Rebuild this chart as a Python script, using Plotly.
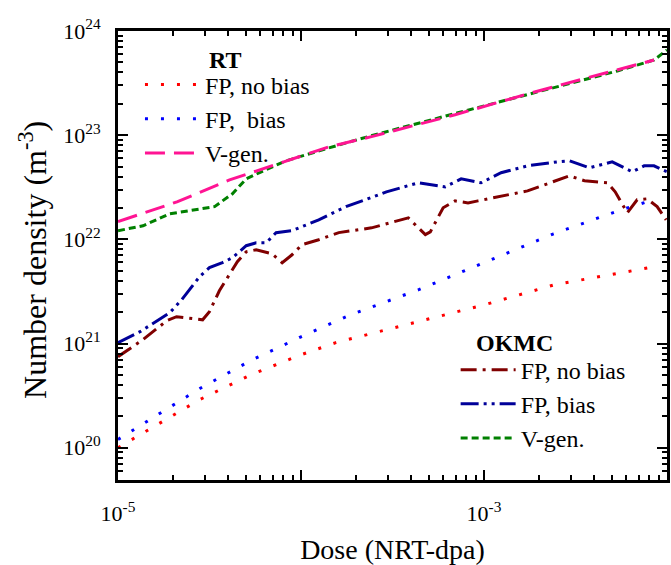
import plotly.graph_objects as go

# ---------------- data ----------------
rt_nobias_dose = [1e-5, 1.5e-5, 2.8e-5, 5.3e-5, 1e-4, 1.55e-4, 4.4e-4, 1.01e-3, 2.43e-3, 6.9e-3, 8.5e-3]
rt_nobias_dens = [1.0e20, 1.53e20, 2.9e20, 5.0e20, 7.8e20, 1.02e21, 1.62e21, 2.36e21, 3.67e21, 5.1e21, 5.45e21]

rt_bias_dose = [1e-5, 1.5e-5, 2.8e-5, 5.3e-5, 1e-4, 1.87e-4, 4.4e-4, 1.03e-3, 2.4e-3, 5.6e-3, 8.5e-3]
rt_bias_dens = [1.2e20, 1.86e20, 3.7e20, 6.85e20, 1.16e21, 1.89e21, 3.29e21, 6.1e21, 1.13e22, 1.92e22, 2.4e22]

rt_vgen_dose = [1e-5, 2.1e-5, 4.07e-5, 8.3e-5, 1.42e-4, 2.4e-4, 6.95e-4, 1.89e-3, 5.35e-3, 8.5e-3]
rt_vgen_dens = [1.48e22, 2.29e22, 3.72e22, 5.68e22, 7.73e22, 9.64e22, 1.57e23, 2.6e23, 4.23e23, 5.27e23]

okmc_nobias_dose = [1e-5, 1.37e-5, 1.85e-5, 2.09e-5, 2.90e-5, 3.16e-5, 3.58e-5, 4.07e-5, 4.49e-5,
                    5.02e-5, 5.69e-5, 6.95e-5, 7.89e-5, 8.93e-5, 1.01e-4, 1.25e-4, 1.61e-4, 2.43e-4,
                    3.86e-4, 4.11e-4, 4.78e-4, 5.09e-4, 5.98e-4, 6.95e-4, 8.18e-4, 9.27e-4, 1.73e-3,
                    2.93e-3, 3.54e-3, 4.72e-3, 5.21e-3, 6.07e-3, 6.87e-3, 7.78e-3, 8.83e-3, 9.89e-3]
okmc_nobias_dens = [7.48e20, 1.09e21, 1.66e21, 1.81e21, 1.69e21, 2.02e21, 3.21e21, 4.58e21, 6.10e21,
                    7.60e21, 7.94e21, 7.28e21, 5.97e21, 7.11e21, 8.87e21, 9.91e21, 1.16e22, 1.29e22,
                    1.61e22, 1.44e22, 1.11e22, 1.18e22, 2.01e22, 2.34e22, 2.24e22, 2.34e22, 2.92e22,
                    4.07e22, 3.65e22, 3.49e22, 2.86e22, 1.80e22, 2.40e22, 2.45e22, 2.06e22, 1.54e22]

okmc_bias_dose = [1e-5, 1.32e-5, 1.92e-5, 2.23e-5, 2.46e-5, 2.79e-5, 3.16e-5, 3.72e-5, 4.22e-5,
                  5.02e-5, 5.69e-5, 6.46e-5, 7.31e-5, 8.93e-5, 1.25e-4, 1.76e-4, 2.25e-4, 2.93e-4,
                  4.38e-4, 6.14e-4, 7.50e-4, 9.64e-4, 1.24e-3, 1.73e-3, 2.52e-3, 2.93e-3, 3.77e-3,
                  5.02e-3, 6.46e-3, 7.50e-3, 8.49e-3, 1.0e-2]
okmc_bias_dens = [1.02e21, 1.30e21, 1.98e21, 2.64e21, 3.29e21, 4.38e21, 5.35e21, 5.97e21, 6.67e21,
                  8.69e21, 9.27e21, 9.27e21, 1.16e22, 1.21e22, 1.54e22, 2.06e22, 2.40e22, 2.86e22,
                  3.49e22, 3.19e22, 3.81e22, 3.49e22, 4.36e22, 5.08e22, 5.55e22, 5.68e22, 4.86e22,
                  5.55e22, 4.45e22, 5.08e22, 5.08e22, 4.45e22]

okmc_vgen_dose = [1e-5, 1.37e-5, 1.92e-5, 2.8e-5, 3.37e-5, 4.22e-5, 5.02e-5, 6.07e-5, 8.3e-5,
                  1.42e-4, 2.4e-4, 7.2e-4, 1.96e-3, 5.35e-3, 8.5e-3, 1e-2]
okmc_vgen_dens = [1.21e22, 1.35e22, 1.76e22, 1.96e22, 2.06e22, 2.74e22, 3.81e22, 4.45e22, 5.68e22,
                  7.55e22, 9.84e22, 1.64e23, 2.6e23, 4.13e23, 5.27e23, 6.58e23]

x_tickvals = [1e-5, 1e-4, 1e-3, 1e-2]
x_ticktext = ["10<sup>-5</sup>", " ", "10<sup>-3</sup>", " "]
y_tickvals = [1e20, 1e21, 1e22, 1e23, 1e24]
y_ticktext = ["10<sup>20</sup>", "10<sup>21</sup>", "10<sup>22</sup>", "10<sup>23</sup>", "10<sup>24</sup>"]

FONT = "Liberation Serif, Times New Roman, serif"

fig = go.Figure()

def add(x, y, name, color, dash, legend, rank):
    fig.add_trace(go.Scatter(x=x, y=y, mode="lines", name=name,
                             line=dict(color=color, width=3, dash=dash),
                             legend=legend, legendrank=rank))

# OKMC curves drawn first (underneath), RT on top
add(okmc_vgen_dose, okmc_vgen_dens, "V-gen.", "#008000", "7px,4px", "legend2", 3)
add(okmc_nobias_dose, okmc_nobias_dens, "FP, no bias", "#800000", "16px,6px,3px,6px", "legend2", 1)
add(okmc_bias_dose, okmc_bias_dens, "FP, bias", "#000099", "18px,5px,3px,5px,3px,5px", "legend2", 2)
add(rt_nobias_dose, rt_nobias_dens, "FP, no bias", "#ff0000", "3px,13px", "legend", 1)
add(rt_bias_dose, rt_bias_dens, "FP,  bias", "#0000ff", "3px,13px", "legend", 2)
add(rt_vgen_dose, rt_vgen_dens, "V-gen.", "#ff1493", "20px,9px", "legend", 3)

minor_x = [m * 10.0 ** e for e in range(-5, -2) for m in range(2, 10)]
minor_y = [m * 10.0 ** e for e in range(19, 24) for m in range(2, 10)]

axis_common = dict(type="log", showline=True, linecolor="black", linewidth=3,
                   mirror="ticks", ticks="inside", ticklen=10, tickwidth=2,
                   tickcolor="black", showgrid=False, zeroline=False,
                   tickfont=dict(family=FONT, size=22, color="black"))

fig.update_xaxes(**axis_common, range=[-5, -2], tickmode="array",
                 tickvals=x_tickvals, ticktext=x_ticktext, ticklabelstandoff=12,
                 minor=dict(tickmode="array", tickvals=minor_x, ticks="inside",
                            ticklen=5, tickwidth=2, tickcolor="black"),
                 title=dict(text="Dose (NRT-dpa)", font=dict(family=FONT, size=28, color="black"),
                            standoff=18))
fig.update_yaxes(**axis_common, range=[19.69, 24], tickmode="array",
                 tickvals=y_tickvals, ticktext=y_ticktext, ticklabelstandoff=10,
                 minor=dict(tickmode="array", tickvals=minor_y, ticks="inside",
                            ticklen=5, tickwidth=2, tickcolor="black"))

legend_common = dict(bgcolor="rgba(0,0,0,0)", borderwidth=0, traceorder="normal",
                     xanchor="left", yanchor="top", itemwidth=55,
                     font=dict(family=FONT, size=24, color="black"))

fig.update_layout(
    width=671, height=565,
    margin=dict(l=118, r=1, t=31, b=85),
    paper_bgcolor="white", plot_bgcolor="white",
    font=dict(family=FONT, color="black"),
    legend=dict(**legend_common, x=0.040, y=0.930),
    legend2=dict(**legend_common, x=0.615, y=0.295),
    annotations=[
        dict(text="Number density (m<sup>-3</sup>)", xref="paper", yref="paper",
             x=-0.155, y=0.49, xanchor="center", yanchor="middle", textangle=-90,
             showarrow=False, font=dict(family=FONT, size=32, color="black")),
        dict(text="<b>RT</b>", xref="paper", yref="paper", x=0.163, y=0.935,
             xanchor="left", yanchor="middle", showarrow=False,
             font=dict(family=FONT, size=24, color="black")),
        dict(text="<b>OKMC</b>", xref="paper", yref="paper", x=0.648, y=0.305,
             xanchor="left", yanchor="middle", showarrow=False,
             font=dict(family=FONT, size=24, color="black")),
    ],
)

fig.write_html("out.html")
